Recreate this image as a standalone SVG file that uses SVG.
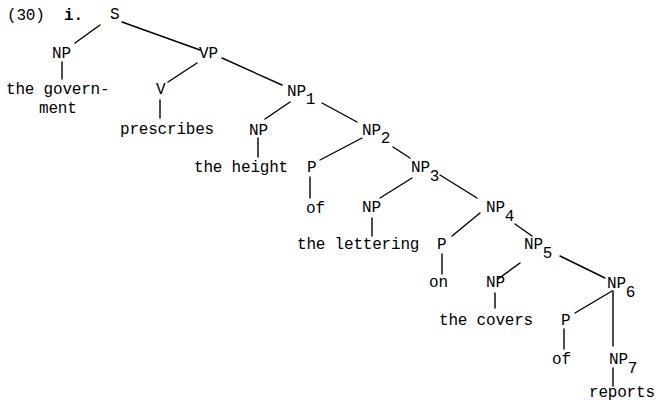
<svg xmlns="http://www.w3.org/2000/svg" width="658" height="402" viewBox="0 0 658 402">
<style>
text{font-family:"Liberation Mono","DejaVu Sans Mono",monospace;font-size:16px;letter-spacing:-0.2px;fill:#000}
.b{font-weight:bold}
#edges line{stroke:#000;stroke-width:1.4;stroke-linecap:round}
</style>
<rect width="658" height="402" fill="#fff"/>
<g id="label"><text x="7" y="20">(30)</text><text class="b" x="64" y="20">i.</text></g>
<g id="edges">
<line x1="100" y1="25" x2="75" y2="43"/>
<line x1="122" y1="22" x2="200" y2="50"/>
<line x1="62" y1="62" x2="62" y2="79"/>
<line x1="197" y1="63" x2="168" y2="82"/>
<line x1="222" y1="58" x2="282" y2="85"/>
<line x1="160" y1="100" x2="160" y2="118"/>
<line x1="290" y1="102" x2="265" y2="119"/>
<line x1="322" y1="103" x2="357" y2="122"/>
<line x1="258" y1="138" x2="258" y2="157"/>
<line x1="362" y1="138" x2="320" y2="160"/>
<line x1="393" y1="147" x2="410" y2="158"/>
<line x1="310" y1="177" x2="310" y2="198"/>
<line x1="412" y1="178" x2="380" y2="198"/>
<line x1="440" y1="175" x2="477" y2="198"/>
<line x1="372" y1="218" x2="372" y2="236"/>
<line x1="480" y1="213" x2="452" y2="236"/>
<line x1="515" y1="224" x2="532" y2="236"/>
<line x1="442" y1="254" x2="442" y2="274"/>
<line x1="520" y1="263" x2="498" y2="279"/>
<line x1="560" y1="256" x2="605" y2="278"/>
<line x1="495" y1="293" x2="495" y2="308"/>
<line x1="612" y1="291" x2="575" y2="313"/>
<line x1="613" y1="291" x2="613" y2="346"/>
<line x1="564" y1="329" x2="564" y2="349"/>
<line x1="613" y1="368" x2="613" y2="386"/>
</g>
<g id="S"><text x="110" y="19">S</text></g>
<g id="NP_subj"><text x="52" y="58">NP</text></g>
<g id="government"><text x="6" y="94">the govern-</text><text x="39" y="113">ment</text></g>
<g id="VP"><text x="199" y="58">VP</text></g>
<g id="V"><text x="156" y="94">V</text></g>
<g id="prescribes"><text x="120" y="134">prescribes</text></g>
<g id="NP1"><text x="287" y="96">NP<tspan dy="8">1</tspan></text></g>
<g id="NP_height"><text x="249" y="135">NP</text></g>
<g id="height"><text x="194" y="172">the height</text></g>
<g id="NP2"><text x="362" y="135">NP<tspan dy="8">2</tspan></text></g>
<g id="P1"><text x="307" y="172">P</text></g>
<g id="of1"><text x="306" y="213">of</text></g>
<g id="NP3"><text x="411" y="172">NP<tspan dy="9">3</tspan></text></g>
<g id="NP_lettering"><text x="362" y="212">NP</text></g>
<g id="lettering"><text x="297" y="249">the lettering</text></g>
<g id="NP4"><text x="486" y="212">NP<tspan dy="9">4</tspan></text></g>
<g id="P2"><text x="437" y="249">P</text></g>
<g id="on"><text x="429" y="287">on</text></g>
<g id="NP5"><text x="524" y="249">NP<tspan dy="9">5</tspan></text></g>
<g id="NP_covers"><text x="486" y="287">NP</text></g>
<g id="covers"><text x="439" y="325">the covers</text></g>
<g id="NP6"><text x="607" y="288">NP<tspan dy="9">6</tspan></text></g>
<g id="P3"><text x="561" y="325">P</text></g>
<g id="of2"><text x="552" y="364">of</text></g>
<g id="NP7"><text x="609" y="364">NP<tspan dy="9">7</tspan></text></g>
<g id="reports"><text x="589" y="397">reports</text></g>
</svg>
